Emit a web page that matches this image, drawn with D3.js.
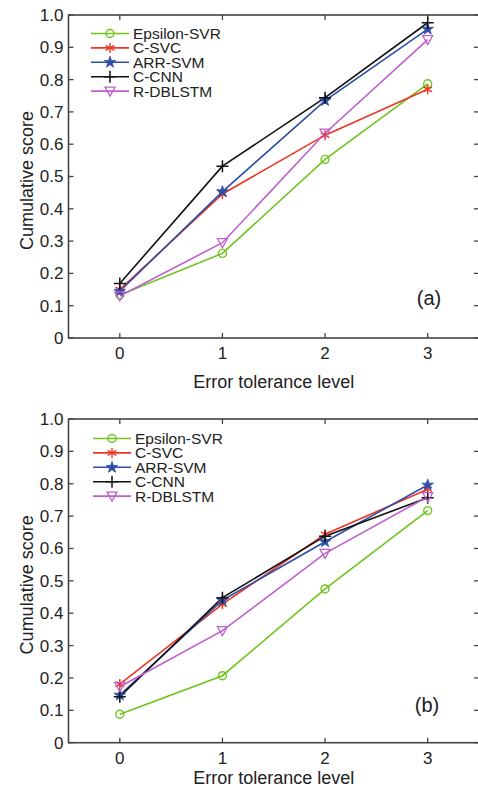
<!DOCTYPE html>
<html>
<head>
<meta charset="utf-8">
<script src="https://cdn.jsdelivr.net/npm/d3@7"></script>
<style>
  body { margin: 0; background: #fff; }
  text { font-family: "Liberation Sans", Arial, sans-serif; fill: #222; }
</style>
</head>
<body>
<div id="chart"></div>
<script>
// data
const levels = [0, 1, 2, 3];
const methods = ["Epsilon-SVR", "C-SVC", "ARR-SVM", "C-CNN", "R-DBLSTM"];
const colors = ["#6ec41a", "#ee3524", "#2f4ea6", "#111111", "#bf5fcf"];
const markers = ["circle", "asterisk", "star", "plus", "triangle"];

const scoresA = [
  [0.133, 0.262, 0.553, 0.787],
  [0.150, 0.446, 0.628, 0.770],
  [0.145, 0.453, 0.735, 0.956],
  [0.169, 0.532, 0.744, 0.976],
  [0.130, 0.295, 0.634, 0.924],
];
const scoresB = [
  [0.088, 0.207, 0.475, 0.717],
  [0.181, 0.428, 0.644, 0.783],
  [0.147, 0.440, 0.621, 0.796],
  [0.142, 0.448, 0.638, 0.757],
  [0.173, 0.346, 0.585, 0.760],
];
const yTicks = [0, 0.1, 0.2, 0.3, 0.4, 0.5, 0.6, 0.7, 0.8, 0.9, 1.0];

const W = 478, H = 787;
const svg = d3.select("#chart").append("svg").attr("width", W).attr("height", H);

const x = d3.scaleLinear().domain([-0.5, 3.5]).range([68.5, 479]);

function drawMarker(g, type, color) {
  if (type === "circle") {
    g.append("circle").attr("r", 4).attr("fill", "none").attr("stroke", color).attr("stroke-width", 1.4);
  } else if (type === "asterisk") {
    [90, 30, -30].forEach((a) => {
      const r = 5, t = (a * Math.PI) / 180;
      g.append("line")
        .attr("x1", -r * Math.cos(t)).attr("y1", -r * Math.sin(t))
        .attr("x2", r * Math.cos(t)).attr("y2", r * Math.sin(t))
        .attr("stroke", color).attr("stroke-width", 1.4);
    });
  } else if (type === "star") {
    g.append("path").attr("d", d3.symbol(d3.symbolStar, 42)()).attr("fill", color).attr("stroke", color).attr("stroke-width", 0.8);
  } else if (type === "plus") {
    g.append("path").attr("d", "M-6,0H6M0,-6V6").attr("stroke", color).attr("stroke-width", 1.5);
  } else if (type === "triangle") {
    g.append("path").attr("d", "M-5,-4L5,-4L0,5Z").attr("fill", "none").attr("stroke", color).attr("stroke-width", 1.3);
  }
}

function drawPanel(scores, top, bottom, tag, legendX, legendY, tagPos, xTitleY) {
  const y = d3.scaleLinear().domain([0, 1]).range([bottom, top]);
  const g = svg.append("g");
  const [x0, x1] = x.range();

  // ticks (inward, on all four sides)
  const tickLen = 5;
  levels.forEach((v) => {
    g.append("line").attr("x1", x(v)).attr("x2", x(v)).attr("y1", bottom).attr("y2", bottom - tickLen).attr("stroke", "#444").attr("stroke-width", 1.3);
    g.append("line").attr("x1", x(v)).attr("x2", x(v)).attr("y1", top).attr("y2", top + tickLen).attr("stroke", "#444").attr("stroke-width", 1.3);
    g.append("text").attr("x", x(v)).attr("y", bottom + 21).attr("text-anchor", "middle").attr("font-size", 17).text(v);
  });
  yTicks.forEach((v) => {
    g.append("line").attr("x1", x0).attr("x2", x0 + tickLen).attr("y1", y(v)).attr("y2", y(v)).attr("stroke", "#444").attr("stroke-width", 1.3);
    g.append("line").attr("x1", x1).attr("x2", x1 - tickLen).attr("y1", y(v)).attr("y2", y(v)).attr("stroke", "#444").attr("stroke-width", 1.3);
    g.append("text").attr("x", x0 - 5).attr("y", y(v)).attr("dy", "0.35em").attr("text-anchor", "end").attr("font-size", 17)
      .text(v === 0 ? "0" : d3.format(".1f")(v));
  });

  g.append("rect").attr("x", x0).attr("y", top).attr("width", x1 - x0).attr("height", bottom - top)
    .attr("fill", "none").attr("stroke", "#444").attr("stroke-width", 1.6);

  // series
  const line = d3.line().x((d, i) => x(levels[i])).y((d) => y(d));
  scores.forEach((s, k) => {
    g.append("path").attr("d", line(s)).attr("fill", "none").attr("stroke", colors[k]).attr("stroke-width", 1.6);
  });
  scores.forEach((s, k) => {
    s.forEach((v, i) => {
      const m = g.append("g").attr("transform", `translate(${x(levels[i])},${y(v)})`);
      drawMarker(m, markers[k], colors[k]);
    });
  });

  // legend
  methods.forEach((name, k) => {
    const ly = legendY + k * 14.4;
    g.append("line").attr("x1", legendX).attr("x2", legendX + 38).attr("y1", ly).attr("y2", ly).attr("stroke", colors[k]).attr("stroke-width", 1.6);
    const m = g.append("g").attr("transform", `translate(${legendX + 19},${ly})`);
    drawMarker(m, markers[k], colors[k]);
    g.append("text").attr("x", legendX + 42).attr("y", ly).attr("dy", "0.35em").attr("font-size", 15.5).text(name);
  });

  g.append("text").attr("x", tagPos[0]).attr("y", tagPos[1]).attr("dy", "0.35em").attr("text-anchor", "middle").attr("font-size", 20).text(tag);

  g.append("text").attr("x", (x(0) + x(3)) / 2).attr("y", xTitleY).attr("text-anchor", "middle").attr("font-size", 18).text("Error tolerance level");

  g.append("text").attr("transform", `translate(33,${(top + bottom) / 2 + 4}) rotate(-90)`).attr("text-anchor", "middle").attr("font-size", 18).text("Cumulative score");
}

drawPanel(scoresA, 15, 338, "(a)", 91, 33.5, [429, 298], 388);
drawPanel(scoresB, 419, 742.7, "(b)", 93, 438.5, [427, 705], 784);
</script>
</body>
</html>
